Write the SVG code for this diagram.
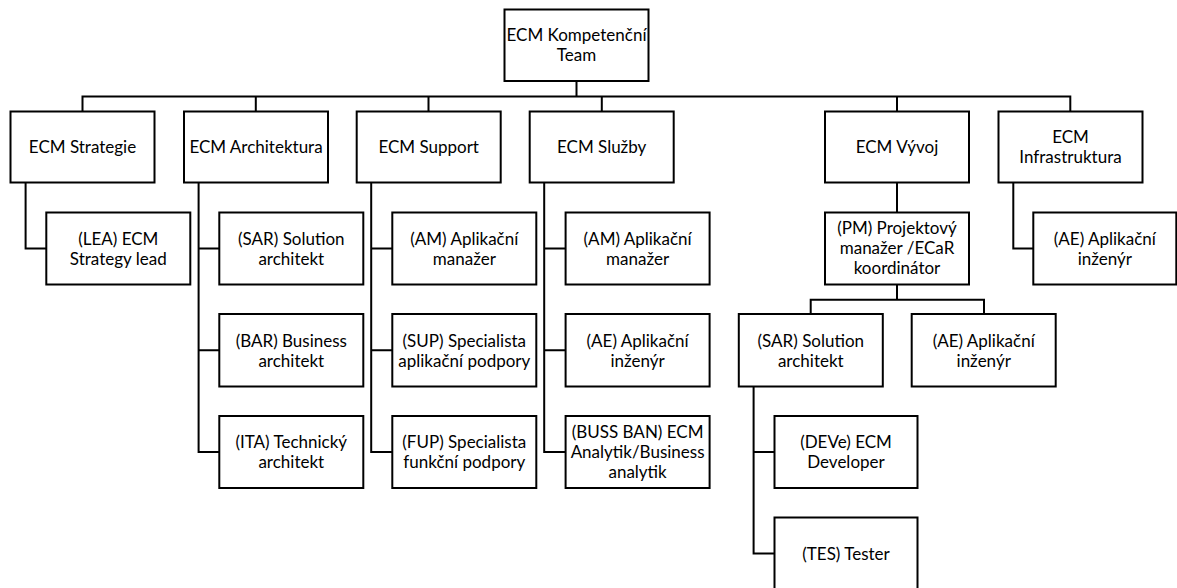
<svg xmlns="http://www.w3.org/2000/svg" width="1177" height="588" viewBox="0 0 1177 588">
  <style>
    .box { fill: #ffffff; stroke: #000000; stroke-width: 2; }
    .lbl { font-family: Lato, "Noto Sans", "Liberation Sans", sans-serif; font-size: 17px; fill: #000000; text-anchor: middle; }
    .wire { fill: none; stroke: #000000; stroke-width: 2; }
  </style>
  <rect width="1177" height="588" fill="#ffffff"/>

  <!-- connectors -->
  <g id="connectors">
    <path class="wire" d="M576.5 81 V96.5"/>
    <path class="wire" d="M82.5 111.5 V96.5 H1070.3 V111.5"/>
    <path class="wire" d="M255.8 96.5 V111.5 M428.5 96.5 V111.5 M601.8 96.5 V111.5 M897 96.5 V111.5"/>
    <path class="wire" d="M25.6 182.5 V248.5 H46.3"/>
    <path class="wire" d="M198.6 182.5 V452 H219.3 M198.6 248.5 H219.3 M198.6 350.3 H219.3"/>
    <path class="wire" d="M371.2 182.5 V452 H392.3 M371.2 248.5 H392.3 M371.2 350.3 H392.3"/>
    <path class="wire" d="M544.2 182.5 V452 H565.6 M544.2 248.5 H565.6 M544.2 350.3 H565.6"/>
    <path class="wire" d="M897 182.5 V212.5"/>
    <path class="wire" d="M1013.3 182.5 V248.5 H1033.3"/>
    <path class="wire" d="M897 284.5 V299.7 M810.7 314 V299.7 H984 V314"/>
    <path class="wire" d="M753.6 386.5 V553.5 H774.5 M753.6 452 H774.5"/>
  </g>

  <!-- top -->
  <g id="n-team">
    <rect class="box" x="504.5" y="9.5" width="144" height="71.5"/>
    <text class="lbl" x="576.5" y="41.4">ECM Kompetenční</text>
    <text class="lbl" x="576.5" y="61.4">Team</text>
  </g>

  <!-- departments -->
  <g id="n-strategie">
    <rect class="box" x="10.5" y="111.5" width="144" height="71"/>
    <text class="lbl" x="82.5" y="153.4">ECM Strategie</text>
  </g>
  <g id="n-architektura">
    <rect class="box" x="184" y="111.5" width="144" height="71"/>
    <text class="lbl" x="256" y="153.4">ECM Architektura</text>
  </g>
  <g id="n-support">
    <rect class="box" x="356.7" y="111.5" width="144" height="71"/>
    <text class="lbl" x="428.7" y="153.4">ECM Support</text>
  </g>
  <g id="n-sluzby">
    <rect class="box" x="529.7" y="111.5" width="144" height="71"/>
    <text class="lbl" x="601.7" y="153.4">ECM Služby</text>
  </g>
  <g id="n-vyvoj">
    <rect class="box" x="825" y="111.5" width="144" height="71"/>
    <text class="lbl" x="897" y="153.4">ECM Vývoj</text>
  </g>
  <g id="n-infra">
    <rect class="box" x="998.5" y="111.5" width="144" height="71"/>
    <text class="lbl" x="1070.5" y="143.4">ECM</text>
    <text class="lbl" x="1070.5" y="163.4">Infrastruktura</text>
  </g>

  <!-- first row of roles -->
  <g id="n-lea">
    <rect class="box" x="46.3" y="212.5" width="144" height="72"/>
    <text class="lbl" x="118.3" y="245">(LEA) ECM</text>
    <text class="lbl" x="118.3" y="265">Strategy lead</text>
  </g>
  <g id="n-sar-arch">
    <rect class="box" x="219.3" y="212.5" width="144" height="72"/>
    <text class="lbl" x="291.3" y="245">(SAR) Solution</text>
    <text class="lbl" x="291.3" y="265">architekt</text>
  </g>
  <g id="n-am-support">
    <rect class="box" x="392.3" y="212.5" width="144" height="72"/>
    <text class="lbl" x="464.3" y="245">(AM) Aplikační</text>
    <text class="lbl" x="464.3" y="265">manažer</text>
  </g>
  <g id="n-am-sluzby">
    <rect class="box" x="565.6" y="212.5" width="144" height="72"/>
    <text class="lbl" x="637.6" y="245">(AM) Aplikační</text>
    <text class="lbl" x="637.6" y="265">manažer</text>
  </g>
  <g id="n-pm">
    <rect class="box" x="825" y="212.5" width="144" height="72"/>
    <text class="lbl" x="897" y="234.4">(PM) Projektový</text>
    <text class="lbl" x="897" y="254.4">manažer /ECaR</text>
    <text class="lbl" x="897" y="274.4">koordinátor</text>
  </g>
  <g id="n-ae-infra">
    <rect class="box" x="1033.3" y="212.5" width="143" height="72"/>
    <text class="lbl" x="1104.8" y="245">(AE) Aplikační</text>
    <text class="lbl" x="1104.8" y="265">inženýr</text>
  </g>

  <!-- second row of roles -->
  <g id="n-bar">
    <rect class="box" x="219.3" y="314" width="144" height="72.5"/>
    <text class="lbl" x="291.3" y="346.6">(BAR) Business</text>
    <text class="lbl" x="291.3" y="366.6">architekt</text>
  </g>
  <g id="n-sup">
    <rect class="box" x="392.3" y="314" width="144" height="72.5"/>
    <text class="lbl" x="464.3" y="346.6">(SUP) Specialista</text>
    <text class="lbl" x="464.3" y="366.6">aplikační podpory</text>
  </g>
  <g id="n-ae-sluzby">
    <rect class="box" x="565.6" y="314" width="144" height="72.5"/>
    <text class="lbl" x="637.6" y="346.6">(AE) Aplikační</text>
    <text class="lbl" x="637.6" y="366.6">inženýr</text>
  </g>
  <g id="n-sar-vyvoj">
    <rect class="box" x="738.8" y="314" width="144" height="72.5"/>
    <text class="lbl" x="810.8" y="346.6">(SAR) Solution</text>
    <text class="lbl" x="810.8" y="366.6">architekt</text>
  </g>
  <g id="n-ae-vyvoj">
    <rect class="box" x="911.7" y="314" width="144" height="72.5"/>
    <text class="lbl" x="983.7" y="346.6">(AE) Aplikační</text>
    <text class="lbl" x="983.7" y="366.6">inženýr</text>
  </g>

  <!-- third row of roles -->
  <g id="n-ita">
    <rect class="box" x="219.3" y="416" width="144" height="72"/>
    <text class="lbl" x="291.3" y="448.4">(ITA) Technický</text>
    <text class="lbl" x="291.3" y="468.4">architekt</text>
  </g>
  <g id="n-fup">
    <rect class="box" x="392.3" y="416" width="144" height="72"/>
    <text class="lbl" x="464.3" y="448.4">(FUP) Specialista</text>
    <text class="lbl" x="464.3" y="468.4">funkční podpory</text>
  </g>
  <g id="n-buss">
    <rect class="box" x="565.6" y="416" width="144" height="72"/>
    <text class="lbl" x="637.6" y="438.4">(BUSS BAN) ECM</text>
    <text class="lbl" x="637.6" y="458.4">Analytik/Business</text>
    <text class="lbl" x="637.6" y="478.4">analytik</text>
  </g>
  <g id="n-deve">
    <rect class="box" x="774.5" y="416" width="143" height="72"/>
    <text class="lbl" x="846" y="448.4">(DEVe) ECM</text>
    <text class="lbl" x="846" y="468.4">Developer</text>
  </g>

  <!-- fourth row -->
  <g id="n-tes">
    <rect class="box" x="774.5" y="517.5" width="143" height="72"/>
    <text class="lbl" x="846" y="560">(TES) Tester</text>
  </g>
</svg>
